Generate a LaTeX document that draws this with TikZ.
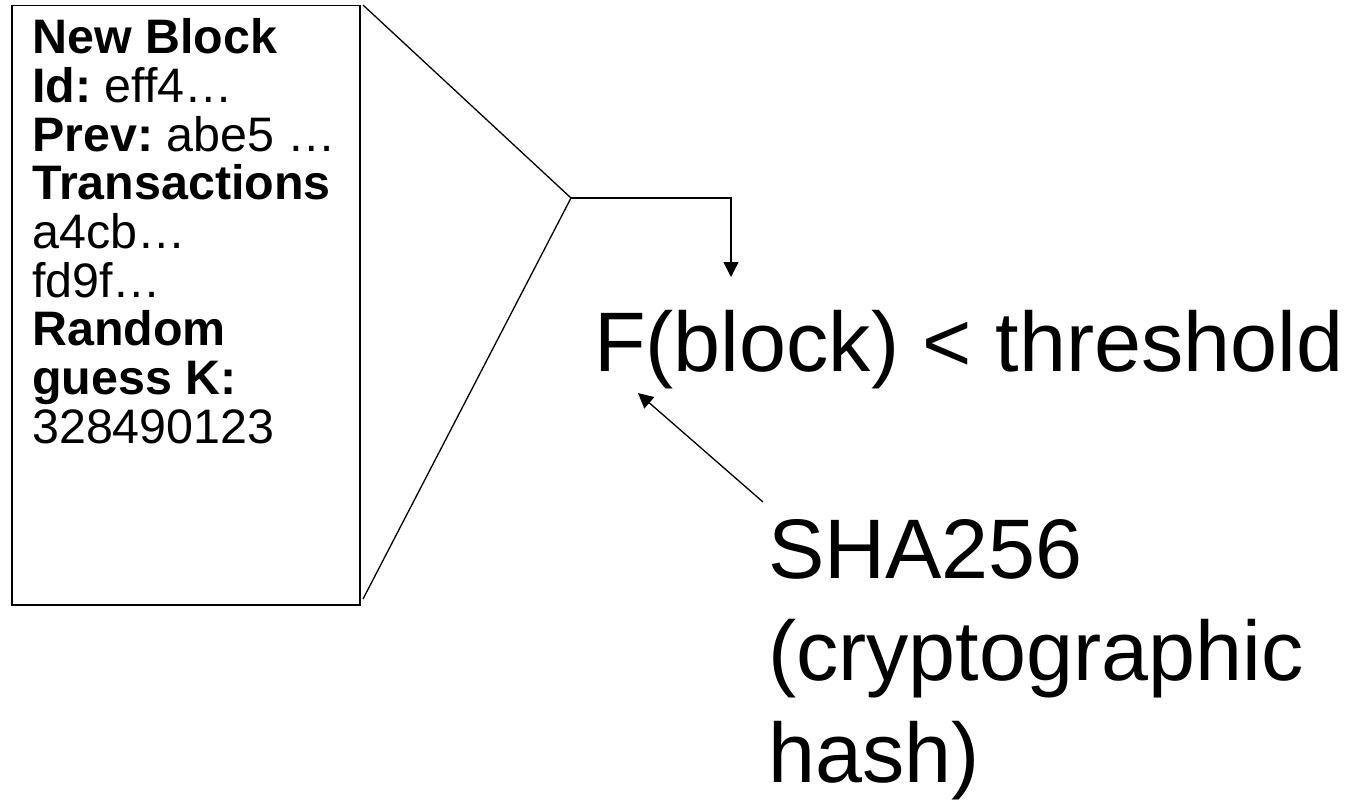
\documentclass[tikz,border=0pt]{standalone}
\usepackage{fontspec}
\setmainfont{Liberation Sans}
\usetikzlibrary{arrows.meta}
\frenchspacing
\begin{document}
\begin{tikzpicture}[x=1pt,y=-1pt,
  line/.style={draw=black,line width=1.3pt},
  arr/.style={line,-{Triangle[length=15pt,width=15pt]}},
  boxtext/.style={anchor=north west,inner sep=0pt,align=left,font=\frenchspacing\fontsize{48.4}{48.7}\selectfont},
  bigtext/.style={inner sep=0pt,align=left,font=\frenchspacing\fontsize{84.5}{102}\selectfont}]
\useasboundingbox (0,0) rectangle (1348,800);
\node (box) [draw,line width=1.5pt,anchor=north west,minimum width=348pt,minimum height=599pt,inner sep=0pt] at (11,5) {};
\node (content) [boxtext] at (32,18.5) {\textbf{New Block}\\\textbf{Id:} eff4…\\\textbf{Prev:} abe5 …\\\textbf{Transactions}\\a4cb…\\fd9f…\\\textbf{Random}\\\textbf{guess K:}\\328490123};
\node (F) [bigtext,anchor=base west] at (594,371) {F(block) < threshold};
\node (sha) [bigtext,anchor=north west] at (768,519) {SHA256\\(cryptographic\\hash)};
\coordinate (top) at (363,5);
\coordinate (bot) at (363,599);
\coordinate (apex) at (571,198);
\coordinate (turn) at (731,198);
\coordinate (ftip) at (731,277);
\coordinate (shastart) at (763,502);
\coordinate (shatip) at (638,393);
\draw[line] (top) -- (apex) -- (bot);
\draw[arr] (apex) -- (turn) -- (ftip);
\draw[arr] (shastart) -- (shatip);
\end{tikzpicture}
\end{document}
